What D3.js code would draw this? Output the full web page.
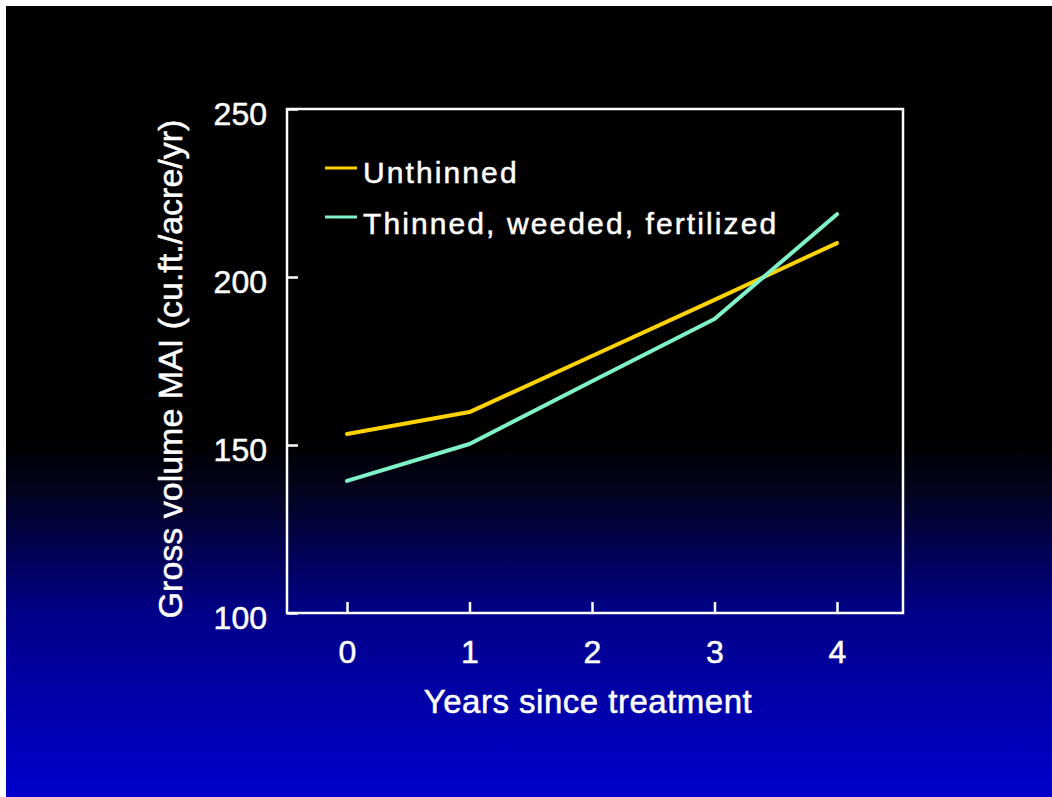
<!DOCTYPE html>
<html>
<head>
<meta charset="utf-8">
<script src="https://cdn.jsdelivr.net/npm/d3@7/dist/d3.min.js"></script>
<style>
  html, body { margin: 0; padding: 0; background: #ffffff; }
  svg { display: block; }
  text { font-family: "Liberation Sans", Arial, sans-serif; fill: #ffffff; stroke: #ffffff; stroke-width: 0.5px; }
</style>
</head>
<body>
<svg id="chart" width="1052" height="797"></svg>
<script>
// Years since treatment
const years = [0, 1, 2, 3, 4];
// Gross volume MAI (cu.ft./acre/yr)
const unthinned = [153.3, 159.8, 176.5, 193.2, 210.1];
const thinnedWeededFertilized = [139.3, 150.3, 169.0, 187.5, 218.7];
const seriesNames = ["Unthinned", "Thinned, weeded, fertilized"];
const yTickValues = [100, 150, 200, 250];
const xTickValues = [0, 1, 2, 3, 4];

const W = 1052, H = 797;
const svg = d3.select("#chart");

// slide background: black upper half fading to blue
const defs = svg.append("defs");
const grad = defs.append("linearGradient")
  .attr("id", "bg").attr("x1", 0).attr("y1", 0).attr("x2", 0).attr("y2", 1);
grad.append("stop").attr("offset", "0%").attr("stop-color", "#000000");
grad.append("stop").attr("offset", "55%").attr("stop-color", "#000000");
grad.append("stop").attr("offset", "61%").attr("stop-color", "#03031c");
grad.append("stop").attr("offset", "77%").attr("stop-color", "#00008a");
grad.append("stop").attr("offset", "100%").attr("stop-color", "#0000cc");
svg.append("rect").attr("x", 6).attr("y", 6).attr("width", W - 6).attr("height", H - 6)
  .attr("fill", "url(#bg)");

const frame = { left: 287, right: 903, top: 109, bottom: 613 };
const x = d3.scaleLinear().domain([0, 4]).range([347, 837]);
const y = d3.scaleLinear().domain([100, 250]).range([frame.bottom, frame.top]);

// plot frame
svg.append("rect")
  .attr("x", frame.left).attr("y", frame.top)
  .attr("width", frame.right - frame.left).attr("height", frame.bottom - frame.top)
  .attr("fill", "none").attr("stroke", "#ffffff").attr("stroke-width", 2.5);

// x axis: ticks pointing inward
const xAxis = svg.append("g")
  .attr("transform", `translate(0,${frame.bottom})`)
  .call(d3.axisBottom(x).tickValues(xTickValues).tickFormat(d3.format("d"))
    .tickSizeInner(-11).tickSizeOuter(0).tickPadding(27));
xAxis.select(".domain").remove();
xAxis.selectAll(".tick line").attr("stroke", "#ffffff").attr("stroke-width", 2.5);
xAxis.selectAll(".tick text")
  .attr("fill", "#ffffff").style("font-size", "32px")
  .attr("font-family", null);

// y axis: ticks pointing inward
const yAxis = svg.append("g")
  .attr("transform", `translate(${frame.left},0)`)
  .call(d3.axisLeft(y).tickValues(yTickValues).tickFormat(d3.format("d"))
    .tickSizeInner(-11).tickSizeOuter(0).tickPadding(20));
yAxis.select(".domain").remove();
yAxis.selectAll(".tick line").attr("stroke", "#ffffff").attr("stroke-width", 2.5);
yAxis.selectAll(".tick text")
  .attr("fill", "#ffffff").style("font-size", "32px").attr("dy", "0.48em")
  .attr("font-family", null);

// axis titles
svg.append("text")
  .attr("x", 588).attr("y", 713)
  .attr("text-anchor", "middle")
  .style("font-size", "33px").style("letter-spacing", "0.5px")
  .text("Years since treatment");

svg.append("text")
  .attr("transform", "translate(182,369) rotate(-90)")
  .attr("text-anchor", "middle")
  .style("font-size", "34px")
  .text("Gross volume MAI (cu.ft./acre/yr)");

// series lines
const colors = ["#ffd200", "#80f2c8"];
const seriesData = [unthinned, thinnedWeededFertilized];
const line = d3.line().x((d, i) => x(years[i])).y(d => y(d));

seriesData.forEach((vals, k) => {
  svg.append("path")
    .datum(vals)
    .attr("d", line)
    .attr("fill", "none")
    .attr("stroke", colors[k])
    .attr("stroke-width", 4)
    .attr("stroke-linejoin", "round")
    .attr("stroke-linecap", "round");
});

// legend
const legendY = [168, 217];
const legendBase = [183, 234];
seriesNames.forEach((name, k) => {
  svg.append("line")
    .attr("x1", 325).attr("x2", 357)
    .attr("y1", legendY[k]).attr("y2", legendY[k])
    .attr("stroke", colors[k]).attr("stroke-width", 3);
  svg.append("text")
    .attr("x", 363).attr("y", legendBase[k])
    .style("font-size", "30px").style("letter-spacing", "2.1px")
    .text(name);
});
</script>
</body>
</html>
